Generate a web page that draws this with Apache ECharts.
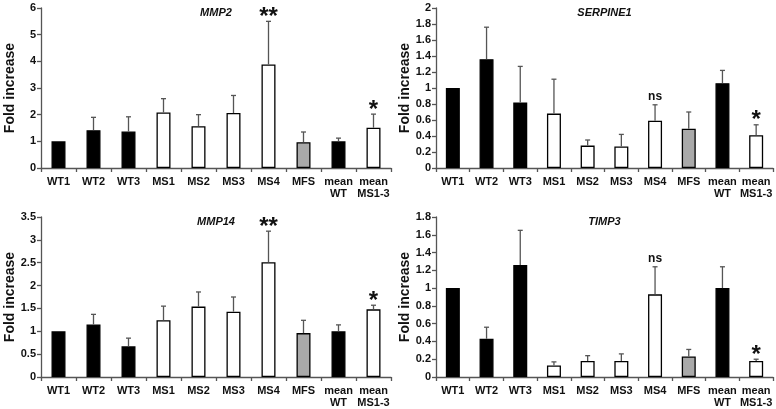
<!DOCTYPE html>
<html>
<head>
<meta charset="utf-8">
<script src="https://cdn.jsdelivr.net/npm/echarts@6/dist/echarts.min.js"></script>
<style>
html,body{margin:0;padding:0;background:#fff;}
#chart{width:776px;height:409px;}
</style>
</head>
<body>
<div id="chart"></div>
<script>
const categories = ['WT1','WT2','WT3','MS1','MS2','MS3','MS4','MFS','mean\nWT','mean\nMS1-3'];
const groupKinds = ['wt','wt','wt','ms','ms','ms','ms','mfs','wt','ms'];

const mmp2Values = [1.0, 1.42, 1.37, 2.08, 1.57, 2.06, 3.88, 0.97, 1.0, 1.51];
const mmp2ErrTop = [1.0, 1.9, 1.92, 2.6, 2.0, 2.72, 5.5, 1.35, 1.12, 2.02];
const mmp2Marks  = ['', '', '', '', '', '', '**', '', '', '*'];

const serpine1Values = [1.0, 1.36, 0.82, 0.68, 0.28, 0.27, 0.59, 0.49, 1.06, 0.41];
const serpine1ErrTop = [1.0, 1.76, 1.27, 1.11, 0.35, 0.42, 0.79, 0.70, 1.22, 0.54];
const serpine1Marks  = ['', '', '', '', '', '', 'ns', '', '', '*'];

const mmp14Values = [1.0, 1.15, 0.67, 1.24, 1.54, 1.43, 2.51, 0.96, 1.0, 1.48];
const mmp14ErrTop = [1.0, 1.37, 0.85, 1.55, 1.86, 1.75, 3.19, 1.24, 1.14, 1.57];
const mmp14Marks  = ['', '', '', '', '', '', '**', '', '', '*'];

const timp3Values = [1.0, 0.43, 1.26, 0.13, 0.18, 0.18, 0.93, 0.23, 1.0, 0.18];
const timp3ErrTop = [1.0, 0.56, 1.65, 0.17, 0.24, 0.26, 1.24, 0.31, 1.24, 0.20];
const timp3Marks  = ['', '', '', '', '', '', 'ns', '', '', '*'];

const panels = [
  {title:'MMP2', values:mmp2Values, err:mmp2ErrTop, marks:mmp2Marks, max:6, interval:1, grid:{left:41, top:8, width:350, height:160}},
  {title:'SERPINE1', values:serpine1Values, err:serpine1ErrTop, marks:serpine1Marks, max:2, interval:0.2, grid:{left:436, top:8, width:337, height:160}},
  {title:'MMP14', values:mmp14Values, err:mmp14ErrTop, marks:mmp14Marks, max:3.5, interval:0.5, grid:{left:41, top:217, width:350, height:160}},
  {title:'TIMP3', values:timp3Values, err:timp3ErrTop, marks:timp3Marks, max:1.8, interval:0.2, grid:{left:436, top:217, width:337, height:160}}
];

const fillFor = {wt:'#000000', ms:'#ffffff', mfs:'#a9a9a9'};
const FONT = '"Liberation Sans", Arial, sans-serif';

const grids = [], xAxes = [], yAxes = [], series = [], titles = [];
panels.forEach((p, i) => {
  grids.push(Object.assign({containLabel:false}, p.grid));
  xAxes.push({
    type:'category', gridIndex:i, data:categories,
    axisLine:{lineStyle:{color:'#555', width:1.3}},
    axisTick:{show:true, length:4, lineStyle:{color:'#555', width:1.3}},
    axisLabel:{color:'#111', fontFamily:FONT, fontWeight:'bold', fontSize:11, margin:8, lineHeight:12, interval:0}
  });
  yAxes.push({
    type:'value', gridIndex:i, min:0, max:p.max, interval:p.interval,
    name:'Fold increase', nameLocation:'middle', nameGap:24,
    nameTextStyle:{color:'#111', fontFamily:FONT, fontWeight:'bold', fontSize:14},
    splitLine:{show:false},
    axisLine:{show:true, lineStyle:{color:'#555', width:1.3}},
    axisTick:{show:true, length:4, lineStyle:{color:'#555', width:1.3}},
    axisLabel:{color:'#111', fontFamily:FONT, fontWeight:'bold', fontSize:11, margin:5,
      formatter: v => String(+v.toFixed(1))}
  });
  titles.push({
    text:p.title, left:p.grid.left + p.grid.width/2 - 5, top:p.grid.top - 6, textAlign:'center',
    textStyle:{fontFamily:FONT, fontStyle:'italic', fontWeight:'bold', fontSize:11, color:'#111'}
  });
  series.push({
    type:'bar', xAxisIndex:i, yAxisIndex:i, barWidth:14,
    data:p.values.map((v, k) => ({value:v, itemStyle:{color:fillFor[groupKinds[k]], borderColor:'#000', borderWidth:1.3}})),
    z:2
  });
  series.push({
    type:'custom', xAxisIndex:i, yAxisIndex:i, z:3,
    data:p.values.map((v, k) => [k, v, p.err[k], p.marks[k]]),
    renderItem:(params, api) => {
      const x = api.value(0);
      const base = api.coord([x, api.value(1)]);
      const top = api.coord([x, api.value(2)]);
      const mark = p.marks[params.dataIndex];
      const children = [];
      if (api.value(2) > api.value(1)) {
        children.push({type:'line', shape:{x1:base[0], y1:base[1], x2:top[0], y2:top[1]}, style:{stroke:'#555', lineWidth:1.3}});
        children.push({type:'line', shape:{x1:top[0]-2.5, y1:top[1], x2:top[0]+2.5, y2:top[1]}, style:{stroke:'#555', lineWidth:1.3}});
      }
      if (mark) {
        const isNs = mark === 'ns';
        children.push({type:'text', x:top[0], y:top[1] + (isNs ? -2 : 8),
          style:{text:mark, textAlign:'center', textVerticalAlign:'bottom',
            font: isNs ? 'bold 12px ' + FONT : 'bold 24px ' + FONT, fill:'#111'}});
      }
      return {type:'group', children};
    }
  });
});

const chart = echarts.init(document.getElementById('chart'), null, {renderer:'canvas'});
chart.setOption({
  animation:false,
  backgroundColor:'#fff',
  title:titles,
  grid:grids, xAxis:xAxes, yAxis:yAxes, series:series
});
</script>
</body>
</html>
